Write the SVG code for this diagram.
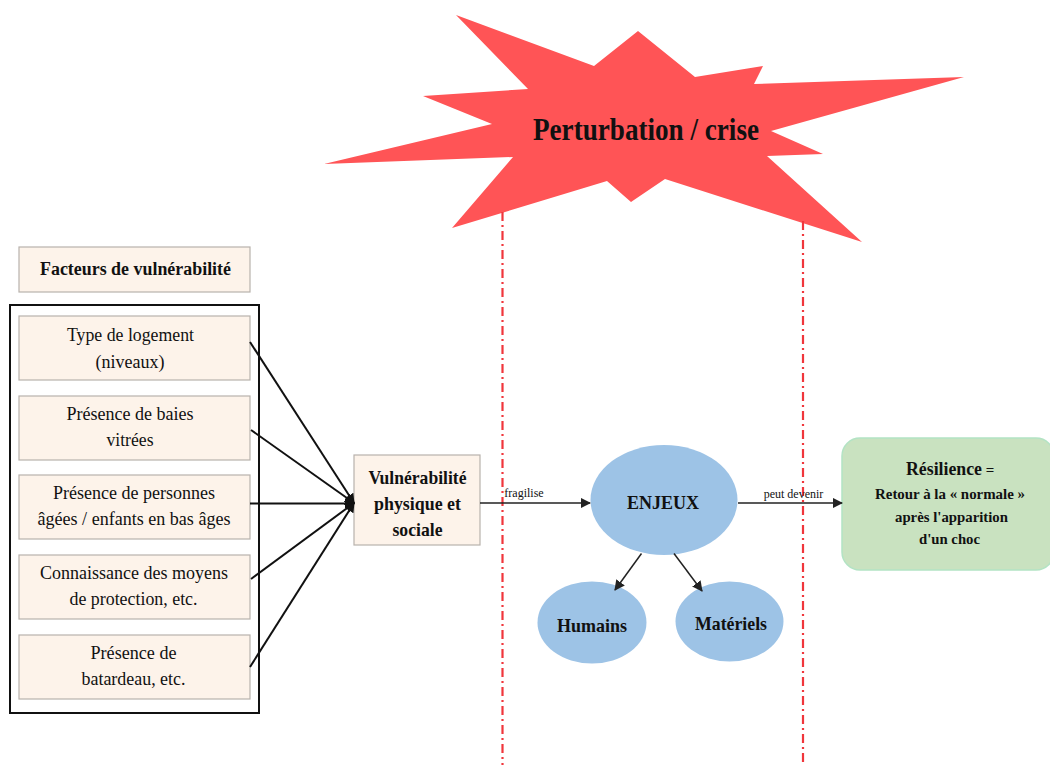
<svg xmlns="http://www.w3.org/2000/svg" width="1050" height="765" viewBox="0 0 1050 765">
<defs>
<style>
.box{fill:#FDF3EA;stroke:#B8B2AC;stroke-width:1.2}
.t{font-family:"Liberation Serif","Times New Roman",serif;fill:#111;text-anchor:middle}
.b{font-weight:bold}
.f19{font-size:19.5px}
.f12{font-size:12px}
.ell{fill:#9DC3E6}
.ln{stroke:#111;stroke-width:2;fill:none}
.ln2{stroke:#222;stroke-width:1.5;fill:none}
.dd{stroke:#F0363C;stroke-width:2.2;stroke-dasharray:9 4 2 4;fill:none}
</style>
<marker id="ah" viewBox="0 0 10 10" refX="9" refY="5" markerWidth="5" markerHeight="5" orient="auto" markerUnits="strokeWidth">
<path d="M0,0 L10,5 L0,10 z" fill="#111"/>
</marker>
<marker id="ah2" viewBox="0 0 10 10" refX="9" refY="5" markerWidth="7" markerHeight="7" orient="auto" markerUnits="strokeWidth">
<path d="M0,0 L10,5 L0,10 z" fill="#222"/>
</marker>
</defs>
<rect width="1050" height="765" fill="#fff"/>

<g id="star">
<polygon fill="#FF5456" points="456,15 594,66 638,31 695,77 763,66 754,84 964,77 771,131 823,154 767,156 862,242 665,179 631,202 607,181 452,228 513,157 324,164 492,124 423,96 528,89"/>
<text class="t b" x="646" y="140" font-size="31" textLength="226" lengthAdjust="spacingAndGlyphs">Perturbation / crise</text>
</g>

<g id="separators">
<line class="dd" x1="502.5" y1="212" x2="502.5" y2="765"/>
<line class="dd" x1="803" y1="221" x2="803" y2="765"/>
</g>

<g id="title-facteurs">
<rect class="box" x="19" y="247" width="231" height="45"/>
<text class="t b" font-size="18.5" x="135.5" y="275" textLength="191" lengthAdjust="spacingAndGlyphs">Facteurs de vulnérabilité</text>
</g>

<g id="factors-frame">
<rect x="10" y="305" width="249" height="408" fill="none" stroke="#111" stroke-width="2"/>
</g>

<g id="f1">
<rect class="box" x="19" y="316" width="231" height="64"/>
<text class="t f19" x="130.5" y="341" textLength="127" lengthAdjust="spacingAndGlyphs">Type de logement</text>
<text class="t f19" x="130" y="367.5" textLength="69" lengthAdjust="spacingAndGlyphs">(niveaux)</text>
</g>
<g id="f2">
<rect class="box" x="19" y="396" width="231" height="64"/>
<text class="t f19" x="130" y="420" textLength="127" lengthAdjust="spacingAndGlyphs">Présence de baies</text>
<text class="t f19" x="130" y="446" textLength="47" lengthAdjust="spacingAndGlyphs">vitrées</text>
</g>
<g id="f3">
<rect class="box" x="19" y="475" width="231" height="64"/>
<text class="t f19" x="134" y="499" textLength="162" lengthAdjust="spacingAndGlyphs">Présence de personnes</text>
<text class="t f19" x="134" y="525" textLength="193" lengthAdjust="spacingAndGlyphs">âgées / enfants en bas âges</text>
</g>
<g id="f4">
<rect class="box" x="19" y="555" width="231" height="64"/>
<text class="t f19" x="134" y="578.5" textLength="188" lengthAdjust="spacingAndGlyphs">Connaissance des moyens</text>
<text class="t f19" x="133.5" y="604.5" textLength="128" lengthAdjust="spacingAndGlyphs">de protection, etc.</text>
</g>
<g id="f5">
<rect class="box" x="19" y="635" width="231" height="64"/>
<text class="t f19" x="133.5" y="658.5" textLength="86" lengthAdjust="spacingAndGlyphs">Présence de</text>
<text class="t f19" x="133.5" y="685" textLength="104" lengthAdjust="spacingAndGlyphs">batardeau, etc.</text>
</g>

<g id="vuln">
<rect class="box" x="354" y="455" width="126" height="90"/>
<text class="t b" font-size="19" x="417.5" y="483.5" textLength="98" lengthAdjust="spacingAndGlyphs">Vulnérabilité</text>
<text class="t b" font-size="19" x="417.5" y="510" textLength="87" lengthAdjust="spacingAndGlyphs">physique et</text>
<text class="t b" font-size="19" x="417.5" y="536" textLength="50" lengthAdjust="spacingAndGlyphs">sociale</text>
</g>

<g id="enjeux">
<ellipse class="ell" cx="664" cy="500" rx="73.5" ry="55"/>
<text class="t b" font-size="19.5" x="663" y="508.5" textLength="72" lengthAdjust="spacingAndGlyphs">ENJEUX</text>
</g>
<g id="humains">
<ellipse class="ell" cx="592" cy="622.5" rx="54.5" ry="41"/>
<text class="t b" font-size="19" x="592" y="632" textLength="70" lengthAdjust="spacingAndGlyphs">Humains</text>
</g>
<g id="materiels">
<ellipse class="ell" cx="729.5" cy="621.5" rx="54" ry="40"/>
<text class="t b" font-size="19" x="731" y="629.5" textLength="72" lengthAdjust="spacingAndGlyphs">Matériels</text>
</g>

<g id="resilience">
<rect x="842" y="438" width="212" height="132" rx="18" fill="#C9E2C0" stroke="#B3E3C4" stroke-width="1.5"/>
<text class="t b" font-size="19" x="944" y="475" textLength="76" lengthAdjust="spacingAndGlyphs">Résilience</text>
<text class="t b" font-size="15" x="990" y="474.5">=</text>
<text class="t b" font-size="15.5" x="950" y="498.5" textLength="150" lengthAdjust="spacingAndGlyphs">Retour à la « normale »</text>
<text class="t b" font-size="15.5" x="951.5" y="521.5" textLength="113" lengthAdjust="spacingAndGlyphs">après l'apparition</text>
<text class="t b" font-size="15.5" x="949.5" y="543.5" textLength="61" lengthAdjust="spacingAndGlyphs">d'un choc</text>
</g>

<g id="connectors">
<line class="ln" x1="250" y1="342" x2="354" y2="503" marker-end="url(#ah)"/>
<line class="ln" x1="251" y1="430" x2="354" y2="503" marker-end="url(#ah)"/>
<line class="ln" x1="250" y1="503.5" x2="354" y2="503.5" marker-end="url(#ah)"/>
<line class="ln" x1="251" y1="579" x2="354" y2="503" marker-end="url(#ah)"/>
<line class="ln" x1="250" y1="667" x2="354" y2="503" marker-end="url(#ah)"/>
<line class="ln2" x1="480" y1="503" x2="590" y2="503" marker-end="url(#ah2)"/>
<text class="t f12" x="524" y="497">fragilise</text>
<line class="ln2" x1="738" y1="503" x2="842" y2="503" marker-end="url(#ah2)"/>
<text class="t f12" x="793.5" y="497.5">peut devenir</text>
<line class="ln2" x1="641.5" y1="553.5" x2="615" y2="590" marker-end="url(#ah2)"/>
<line class="ln2" x1="674" y1="553.5" x2="702" y2="591" marker-end="url(#ah2)"/>
</g>
</svg>
